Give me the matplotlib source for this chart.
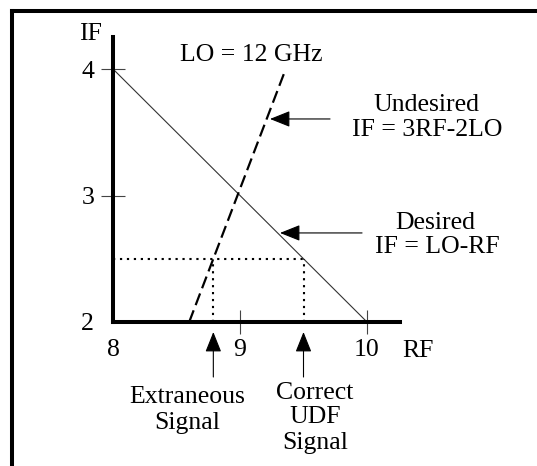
import matplotlib
matplotlib.use("Agg")
import matplotlib.pyplot as plt
from matplotlib.lines import Line2D

plt.rcParams['font.family'] = ['Liberation Serif', 'DejaVu Serif']
plt.rcParams['lines.scale_dashes'] = False

# ---- data ----
desired_rf = [8.0, 10.0]
desired_if = [4.0, 2.0]
undesired_rf = [8.6, 9.354]
undesired_if = [2.0, 3.984]
if_level = 2.5
extraneous_rf = 8.79
correct_rf = 9.5
x_ticks = [8, 9, 10]
x_tick_labels = ["8", "9", "10"]
y_ticks = [2, 3, 4]
y_tick_labels = ["2", "3", "4"]

W, H = 537, 466
fig = plt.figure(figsize=(W / 100, H / 100), dpi=100)

# axes placement (pixels): x=8 -> 113, 127 px/unit ; y=2 -> 322 from top, 126.5 px/unit
xmin, xmax = 8.0, 10.26
ymin, ymax = 2.0, 4.253
left_px, bottom_px = 113, 322
pxu_x, pxu_y = 127.0, 126.5
ax = fig.add_axes([left_px / W, (H - bottom_px) / H,
                   (xmax - xmin) * pxu_x / W, (ymax - ymin) * pxu_y / H])
ax.set_xlim(xmin, xmax)
ax.set_ylim(ymin, ymax)
ax.patch.set_visible(False)
for s in ['top', 'right']:
    ax.spines[s].set_visible(False)
for s in ['left', 'bottom']:
    ax.spines[s].set_linewidth(2.9)
    ax.spines[s].set_capstyle('projecting')

FS = 18.5
ax.set_xticks(x_ticks, x_tick_labels, fontsize=FS)
ax.set_yticks(y_ticks, y_tick_labels, fontsize=FS)
ax.tick_params(axis='both', direction='inout', length=17, width=0.8, color='#444444')
ax.tick_params(axis='x', pad=4)
ax.tick_params(axis='y', pad=5)
ax.xaxis.get_major_ticks()[0].tick1line.set_visible(False)
ax.yaxis.get_major_ticks()[0].tick1line.set_visible(False)

# lines
ax.plot(desired_rf, desired_if, color='#333333', lw=0.8, solid_capstyle='butt')
ax.plot(undesired_rf, undesired_if, color='black', lw=1.6, dashes=(9, 4))
dot = dict(color='black', lw=1.5, dashes=(1.6, 3.4))
ax.plot([xmin, correct_rf], [if_level, if_level], **dot)
ax.plot([extraneous_rf, extraneous_rf], [ymin, if_level], **dot)
ax.plot([correct_rf, correct_rf], [ymin, if_level], **dot)

# texts
ax.text(7.819, 4.293, "IF", fontsize=FS, ha='center', va='center_baseline', clip_on=False)
ax.text(10.40, 1.794, "RF", fontsize=FS, ha='center', va='center_baseline', clip_on=False)
ax.text(9.087, 4.134, "LO = 12 GHz", fontsize=FS, ha='center', va='center_baseline', clip_on=False)
ax.text(10.47, 3.739, "Undesired", fontsize=FS, ha='center', va='center_baseline', clip_on=False)
ax.text(10.47, 3.534, "IF = 3RF-2LO", fontsize=FS, ha='center', va='center_baseline', clip_on=False)
ax.text(10.535, 2.806, "Desired", fontsize=FS, ha='center', va='center_baseline', clip_on=False)
ax.text(10.55, 2.609, "IF = LO-RF", fontsize=FS, ha='center', va='center_baseline', clip_on=False)
ax.text(8.583, 1.423, "Extraneous", fontsize=FS, ha='center', va='center_baseline', clip_on=False)
ax.text(8.583, 1.225, "Signal", fontsize=FS, ha='center', va='center_baseline', clip_on=False)
ax.text(9.591, 1.462, "Correct", fontsize=FS, ha='center', va='center_baseline', clip_on=False)
ax.text(9.591, 1.265, "UDF", fontsize=FS, ha='center', va='center_baseline', clip_on=False)
ax.text(9.591, 1.067, "Signal", fontsize=FS, ha='center', va='center_baseline', clip_on=False)

ap = dict(arrowstyle='-|>,head_length=1.25,head_width=0.5', color='black', lw=0.8,
          shrinkA=0, shrinkB=0, mutation_scale=10)
ax.annotate("", xy=(9.236, 3.605), xytext=(9.709, 3.605), arrowprops=ap, annotation_clip=False)
ax.annotate("", xy=(9.315, 2.704), xytext=(9.961, 2.704), arrowprops=ap, annotation_clip=False)
ax.annotate("", xy=(extraneous_rf, 1.921), xytext=(extraneous_rf, 1.565), arrowprops=ap, annotation_clip=False)
ax.annotate("", xy=(correct_rf, 1.921), xytext=(correct_rf, 1.565), arrowprops=ap, annotation_clip=False)

# outer frame (top and left only)
fig.add_artist(Line2D([12 / W, 1.0], [1 - 11 / H, 1 - 11 / H], transform=fig.transFigure,
                      color='black', lw=2.9, solid_capstyle='projecting'))
fig.add_artist(Line2D([12 / W, 12 / W], [0, 1 - 11 / H], transform=fig.transFigure,
                      color='black', lw=2.9, solid_capstyle='projecting'))

fig.savefig("out.png", dpi=100)
